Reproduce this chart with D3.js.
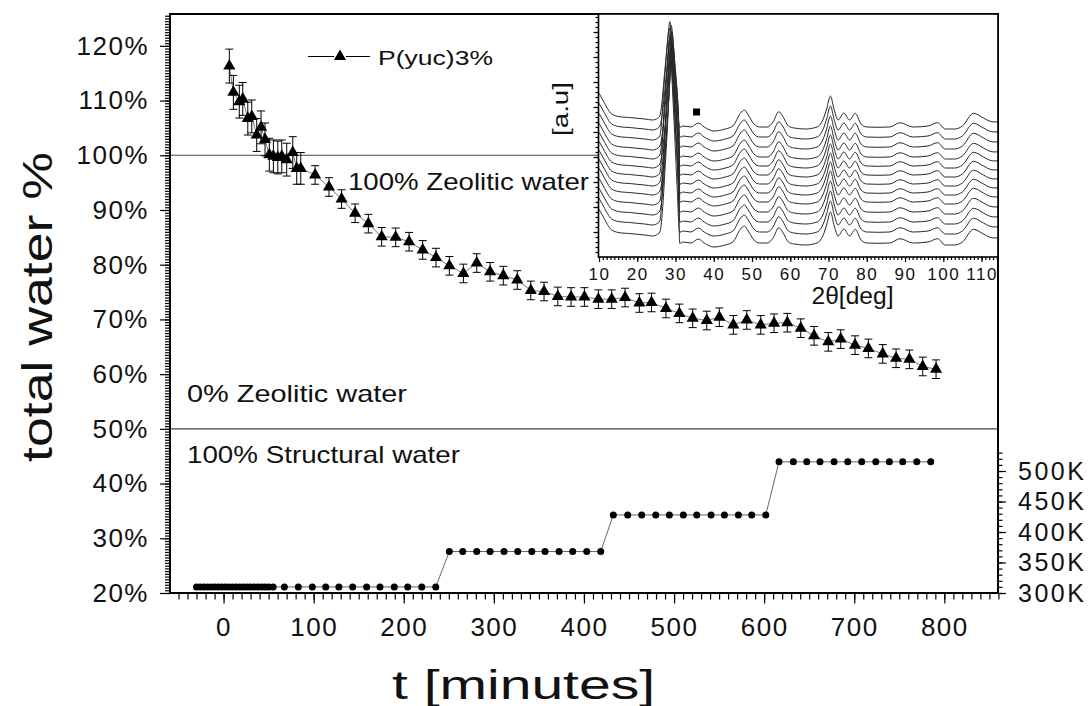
<!DOCTYPE html>
<html>
<head>
<meta charset="utf-8">
<script src="https://cdnjs.cloudflare.com/ajax/libs/d3/7.8.5/d3.min.js"></script>
<style>
  body { margin: 0; background: #fff; }
  svg text { font-family: "Liberation Sans", Arial, sans-serif; fill: #111; }
</style>
</head>
<body>
<svg id="chart" width="1090" height="706"></svg>
<script>
  // total water (%) vs time (minutes)
  var waterTime = [6.4, 10.9, 17.5, 21.3, 26.9, 31.3, 36.8, 41.6, 46, 50.8, 55.3, 60.2, 64.6, 70.1, 76.8, 81.2, 85.7,
    101.6, 117, 131, 146, 160.7, 175.5, 191, 205.9, 221, 235.8, 250.6, 266.2, 281, 295.8, 310.5, 326, 341, 355.7,
    371, 385.7, 400.5, 416, 430.8, 445.6, 461.5, 475, 491, 505.9, 520.7, 536.3, 550.3, 565.8, 580.7, 596.2, 611,
    625.7, 640.6, 655.4, 671.2, 685, 700.9, 715.7, 731.6, 746.4, 761.2, 776, 790.8];
  var waterValue = [116.3, 111.5, 109.8, 110.3, 106.7, 107.1, 103.7, 105.1, 102.9, 100.1, 99.8, 99.6, 99.8, 99.2, 100.5, 97.6, 97.6,
    96.4, 94.2, 92.0, 89.4, 87.5, 85.1, 85.0, 84.2, 82.7, 81.3, 79.8, 78.4, 80.3, 78.7, 78.0, 77.2, 75.3, 75.1,
    74.2, 74.1, 74.1, 73.7, 73.7, 74.0, 73.0, 73.1, 72.0, 71.1, 70.2, 69.8, 70.4, 69.0, 69.9, 69.0, 69.3,
    69.4, 68.4, 67.0, 65.9, 66.4, 65.3, 64.7, 63.7, 62.9, 62.7, 61.4, 60.9];
  var waterError = [3.1, 3.1, 3.0, 3.0, 3.0, 3.0, 3.0, 3.0, 3.0, 3.0, 3.0, 3.0, 3.0, 3.0, 2.9, 2.9, 2.9,
    1.7, 1.7, 1.7, 1.7, 1.7, 1.7, 1.7, 1.7, 1.7, 1.7, 1.7, 1.7, 1.7, 1.7, 1.7, 1.7, 1.7, 1.7,
    1.7, 1.7, 1.7, 1.7, 1.7, 1.7, 1.7, 1.7, 1.7, 1.7, 1.7, 1.7, 1.7, 1.7, 1.7, 1.7, 1.7,
    1.7, 1.7, 1.7, 1.7, 1.7, 1.7, 1.7, 1.7, 1.7, 1.7, 1.7, 1.7];

  // temperature (K) vs time (minutes), right axis
  var tempTime = [-30, -26, -22, -18, -14, -10, -6, -2, 2, 6, 10, 14, 18, 22, 26, 30, 34, 38, 42, 46, 50, 55,
    67.5, 83, 98.5, 113.4, 128, 143.3, 158.8, 173.6, 189.5, 204.4, 220, 235.5,
    250.6, 265.5, 281, 295.8, 311.3, 326.5, 342.1, 356.8, 372.4, 387.5, 403.1, 418.6,
    432.6, 448.6, 464.1, 479.7, 494.8, 510.3, 525.2, 541.1, 555.9, 571.4, 586.2, 601.8,
    616.5, 632.4, 647.3, 662, 677.6, 692.8, 708.3, 723.9, 739, 753.8, 769.4, 784.9];
  var tempValue = [310, 310, 310, 310, 310, 310, 310, 310, 310, 310, 310, 310, 310, 310, 310, 310, 310, 310, 310, 310, 310, 310,
    310, 310, 310, 310, 310, 310, 310, 310, 310, 310, 310, 310,
    368, 368, 368, 368, 368, 368, 368, 368, 368, 368, 368, 368,
    428, 428, 428, 428, 428, 428, 428, 428, 428, 428, 428, 428,
    515, 515, 515, 515, 515, 515, 515, 515, 515, 515, 515, 515];

  var xTicks = [0, 100, 200, 300, 400, 500, 600, 700, 800];
  var yTicks = [20, 30, 40, 50, 60, 70, 80, 90, 100, 110, 120];
  var kTicks = [300, 350, 400, 450, 500];

  // inset: XRD patterns, 2theta (deg) vs intensity (a.u.)
  var xrdAngle = [10, 11, 12, 13, 14.5, 16, 18, 20, 22, 24, 25, 25.9, 27.2, 28.1, 28.5, 29.4, 30.3, 31.1, 32, 34,
    36, 37.5, 40, 43, 45, 47, 48, 49, 50.5, 52, 54, 55.5, 57, 58, 59.5, 61, 64, 67, 68.5, 69.5,
    70.5, 71.5, 72.5, 74, 75.5, 77, 78.5, 80, 83, 86, 88.7, 92, 96, 98.5, 100.5, 103, 105, 107.9, 110.5, 112,
    113.5, 114.3];
  var xrdTop = [163.7, 157, 150, 144, 141, 140, 139.5, 138.7, 138, 137, 138, 141, 186.3, 223, 235.3, 203, 160, 129.7, 131, 130,
    134, 130, 126, 128, 131, 144, 147, 142, 133, 130, 130, 135, 145.3, 141, 131, 129, 128, 130, 137, 148,
    161, 147, 137, 144, 137, 143.7, 133, 130, 129.7, 130, 134.3, 130, 131, 134.3, 128, 128, 131, 143.7, 139, 136,
    135, 135.3];
  var xrdShift = [0, 10, 20, 30, 39, 48, 57, 66, 75, 85, 95, 105, 116];
  var xrdPeakGain = [1.00, 1.06, 1.13, 1.19, 1.25, 1.31, 1.37, 1.43, 1.49, 1.56, 1.63, 1.70, 1.77];
  var xrdPeakOffset = [0, 0.35, -0.15, 0.5, 0.15, 0.6, -0.1, 0.4, 0.7, 0.2, 0.55, 0.05, 0.45];
  var xrdPeakRange = [25.9, 31.1];
  var xrdBackground = 130;
  var xrdMarker = [35.5, 145];
  var xrdTicks = [10, 20, 30, 40, 50, 60, 70, 80, 90, 100, 110];

  var svg = d3.select('#chart');

  var x = d3.scaleLinear().domain([-60, 860]).range([169.5, 998.4]);
  var y = d3.scaleLinear().domain([20, 126]).range([593, 13]);
  var yK = d3.scaleLinear().domain([300, 530]).range([593, 452.7]);

  var plot = { left: 170, right: 998, top: 14, bottom: 593 };

  // reference lines
  svg.selectAll('line.ref')
    .data([100, 50])
    .enter().append('line')
    .attr('class', 'ref')
    .attr('x1', plot.left)
    .attr('x2', plot.right)
    .attr('y1', function(d) { return y(d); })
    .attr('y2', function(d) { return y(d); })
    .attr('stroke', '#444')
    .attr('stroke-width', 1.2);

  // temperature series
  var tempData = tempTime.map(function(t, i) { return [t, tempValue[i]]; });

  svg.append('path')
    .datum(tempData)
    .attr('fill', 'none')
    .attr('stroke', '#555')
    .attr('stroke-width', 0.9)
    .attr('d', d3.line()
      .x(function(d) { return x(d[0]); })
      .y(function(d) { return yK(d[1]); }));

  svg.selectAll('circle.temp')
    .data(tempData)
    .enter().append('circle')
    .attr('class', 'temp')
    .attr('cx', function(d) { return x(d[0]); })
    .attr('cy', function(d) { return yK(d[1]); })
    .attr('r', 3.5)
    .attr('fill', '#000');

  // water series
  var waterData = waterTime.map(function(t, i) { return { t: t, v: waterValue[i], e: waterError[i] }; });

  svg.append('path')
    .datum(waterData)
    .attr('fill', 'none')
    .attr('stroke', '#555')
    .attr('stroke-width', 0.8)
    .attr('d', d3.line()
      .x(function(d) { return x(d.t); })
      .y(function(d) { return y(d.v); }));

  var bars = svg.selectAll('g.err')
    .data(waterData)
    .enter().append('g')
    .attr('class', 'err')
    .attr('stroke', '#000')
    .attr('stroke-width', 1);

  bars.append('line')
    .attr('x1', function(d) { return x(d.t); })
    .attr('x2', function(d) { return x(d.t); })
    .attr('y1', function(d) { return y(d.v + d.e); })
    .attr('y2', function(d) { return y(d.v - d.e); });

  bars.append('line')
    .attr('x1', function(d) { return x(d.t) - 4; })
    .attr('x2', function(d) { return x(d.t) + 4; })
    .attr('y1', function(d) { return y(d.v + d.e); })
    .attr('y2', function(d) { return y(d.v + d.e); });

  bars.append('line')
    .attr('x1', function(d) { return x(d.t) - 4; })
    .attr('x2', function(d) { return x(d.t) + 4; })
    .attr('y1', function(d) { return y(d.v - d.e); })
    .attr('y2', function(d) { return y(d.v - d.e); });

  var triangle = d3.symbol().type(d3.symbolTriangle).size(64);

  svg.selectAll('path.tri')
    .data(waterData)
    .enter().append('path')
    .attr('class', 'tri')
    .attr('d', triangle)
    .attr('transform', function(d) { return 'translate(' + x(d.t) + ',' + y(d.v) + ')'; })
    .attr('fill', '#000');

  // axes
  var tickFont = function(g, size, spacing) {
    g.selectAll('text')
      .attr('font-size', size)
      .attr('letter-spacing', spacing)
      .attr('fill', '#111');
    g.selectAll('.domain').remove();
    g.selectAll('line').attr('stroke', '#000').attr('stroke-width', 1.2);
  };

  svg.append('g')
    .attr('transform', 'translate(0,' + plot.bottom + ')')
    .call(d3.axisBottom(x).tickValues(d3.range(-50, 861, 10)).tickSize(6.5).tickFormat(''))
    .call(tickFont, 26, 1);

  svg.append('g')
    .attr('transform', 'translate(0,' + plot.bottom + ')')
    .call(d3.axisBottom(x).tickValues(xTicks).tickSize(10.5).tickPadding(14).tickFormat(d3.format('d')))
    .call(tickFont, 26, 1.5);

  svg.append('g')
    .attr('transform', 'translate(' + plot.left + ',0)')
    .call(d3.axisLeft(y).tickValues(d3.range(20, 126, 0.5)).tickSize(5).tickFormat(''))
    .call(tickFont, 26, 1);

  svg.append('g')
    .attr('transform', 'translate(' + plot.left + ',0)')
    .call(d3.axisLeft(y).tickValues(yTicks).tickSize(10).tickPadding(11).tickFormat(function(d) { return d + '%'; }))
    .call(tickFont, 26, 1.5);

  svg.append('g')
    .attr('transform', 'translate(' + plot.right + ',0)')
    .call(d3.axisRight(yK).tickValues(d3.range(300, 531, 10)).tickSize(4.5).tickFormat(''))
    .call(tickFont, 25, 1);

  svg.append('g')
    .attr('transform', 'translate(' + plot.right + ',0)')
    .call(d3.axisRight(yK).tickValues(kTicks).tickSize(8).tickPadding(12).tickFormat(function(d) { return d + 'K'; }))
    .call(tickFont, 25, 2.5);

  svg.append('rect')
    .attr('x', plot.left)
    .attr('y', plot.top)
    .attr('width', plot.right - plot.left)
    .attr('height', plot.bottom - plot.top)
    .attr('fill', 'none')
    .attr('stroke', '#000')
    .attr('stroke-width', 2);

  // inset
  var inset = { left: 598.5, right: 998, top: 14, bottom: 257 };
  var xi = d3.scaleLinear().domain([10, 114.3]).range([599, 998]);
  var yi = d3.scaleLinear().domain([0, 243]).range([257, 14]);

  svg.append('rect')
    .attr('x', inset.left)
    .attr('y', inset.top)
    .attr('width', inset.right - inset.left)
    .attr('height', inset.bottom - inset.top)
    .attr('fill', '#fff');

  svg.append('clipPath')
    .attr('id', 'insetClip')
    .append('rect')
    .attr('x', inset.left)
    .attr('y', inset.top)
    .attr('width', inset.right - inset.left)
    .attr('height', inset.bottom - inset.top);

  var xrdLine = d3.line()
    .x(function(d) { return xi(d[0]); })
    .y(function(d) { return yi(d[1]); })
    .curve(d3.curveMonotoneX);

  var xrdData = xrdShift.map(function(shift, i) {
    return xrdAngle.map(function(a, j) {
      var v = xrdTop[j];
      if (a > xrdPeakRange[0] && a < xrdPeakRange[1]) {
        v = xrdBackground + (v - xrdBackground) * xrdPeakGain[i];
        return [a + xrdPeakOffset[i], v - shift];
      }
      return [a, v - shift];
    });
  });

  svg.append('g')
    .attr('clip-path', 'url(#insetClip)')
    .selectAll('path')
    .data(xrdData)
    .enter().append('path')
    .attr('d', xrdLine)
    .attr('fill', 'none')
    .attr('stroke', '#2a2a2a')
    .attr('stroke-width', 1);

  svg.append('rect')
    .attr('x', xi(xrdMarker[0]) - 3.5)
    .attr('y', yi(xrdMarker[1]) - 3.5)
    .attr('width', 7)
    .attr('height', 7)
    .attr('fill', '#000');

  svg.append('g')
    .attr('transform', 'translate(0,' + inset.bottom + ')')
    .call(d3.axisBottom(xi).tickValues(d3.range(11, 115, 1)).tickSize(3).tickFormat(''))
    .call(tickFont, 16, 1);

  svg.append('g')
    .attr('transform', 'translate(0,' + inset.bottom + ')')
    .call(d3.axisBottom(xi).tickValues(xrdTicks).tickSize(5).tickPadding(6).tickFormat(d3.format('d')))
    .call(tickFont, 17, 1.5);

  svg.append('g')
    .attr('transform', 'translate(' + inset.left + ',0)')
    .call(d3.axisLeft(yi).tickValues(d3.range(5, 243, 5)).tickSize(3).tickFormat(''))
    .call(tickFont, 16, 1);

  svg.append('g')
    .attr('transform', 'translate(' + inset.left + ',0)')
    .call(d3.axisLeft(yi).tickValues(d3.range(25, 243, 25)).tickSize(5).tickFormat(''))
    .call(tickFont, 16, 1);

  svg.append('rect')
    .attr('x', inset.left)
    .attr('y', inset.top)
    .attr('width', inset.right - inset.left)
    .attr('height', inset.bottom - inset.top)
    .attr('fill', 'none')
    .attr('stroke', '#000')
    .attr('stroke-width', 1.6);

  svg.append('text')
    .attr('x', 852.5)
    .attr('y', 304)
    .attr('text-anchor', 'middle')
    .attr('font-size', 23)
    .attr('textLength', 82)
    .attr('lengthAdjust', 'spacingAndGlyphs')
    .text('2\u03b8[deg]');

  svg.append('text')
    .attr('transform', 'translate(568,109) rotate(-90)')
    .attr('text-anchor', 'middle')
    .attr('font-size', 22)
    .attr('textLength', 54)
    .attr('lengthAdjust', 'spacingAndGlyphs')
    .text('[a.u]');

  // legend
  var legend = svg.append('g');
  legend.append('line')
    .attr('x1', 308).attr('x2', 370)
    .attr('y1', 56.5).attr('y2', 56.5)
    .attr('stroke', '#000')
    .attr('stroke-width', 1);
  legend.append('path')
    .attr('d', triangle)
    .attr('transform', 'translate(340,56.5)')
    .attr('fill', '#000')
    .attr('stroke', '#fff')
    .attr('stroke-width', 3)
    .attr('paint-order', 'stroke');
  legend.append('text')
    .attr('x', 378)
    .attr('y', 64.5)
    .attr('font-size', 21)
    .attr('textLength', 115)
    .attr('lengthAdjust', 'spacingAndGlyphs')
    .text('P(yuc)3%');

  // annotations
  var notes = [
    { text: '100% Zeolitic water', x: 348, y: 189.5, w: 241 },
    { text: '0% Zeolitic water', x: 187, y: 401.5, w: 220 },
    { text: '100% Structural water', x: 187, y: 462.5, w: 273 }
  ];

  svg.selectAll('text.note')
    .data(notes)
    .enter().append('text')
    .attr('class', 'note')
    .attr('x', function(d) { return d.x; })
    .attr('y', function(d) { return d.y; })
    .attr('font-size', 24)
    .attr('textLength', function(d) { return d.w; })
    .attr('lengthAdjust', 'spacingAndGlyphs')
    .text(function(d) { return d.text; });

  // axis titles
  svg.append('text')
    .attr('transform', 'translate(52,307) rotate(-90)')
    .attr('text-anchor', 'middle')
    .attr('font-size', 42)
    .attr('textLength', 310)
    .attr('lengthAdjust', 'spacingAndGlyphs')
    .text('total water %');

  svg.append('text')
    .attr('x', 523.5)
    .attr('y', 699)
    .attr('text-anchor', 'middle')
    .attr('font-size', 40)
    .attr('textLength', 263)
    .attr('lengthAdjust', 'spacingAndGlyphs')
    .text('t [minutes]');
</script>
</body>
</html>
